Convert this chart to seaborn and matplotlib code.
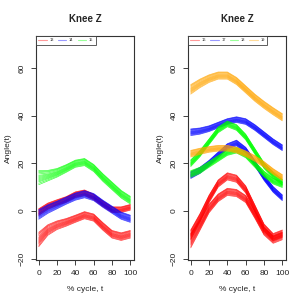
import numpy as np
import pandas as pd
import matplotlib
matplotlib.use("Agg")
import matplotlib.pyplot as plt
import seaborn as sns
from matplotlib.lines import Line2D

sns.set_theme(style="white")
plt.rcParams["font.family"] = ["Liberation Sans", "DejaVu Sans"]

# % cycle knots
t = [0, 10, 20, 30, 40, 50, 60, 70, 80, 90, 100]

# left panel: subjects 13, 14, 15 (bundle centre curves)
red13_hi = [-0.5, 2.0, 3.5, 4.8, 6.8, 7.6, 5.8, 3.0, 0.5, 0.5, 1.5]
red13_lo = [-12, -8, -6, -4.8, -3.3, -1.8, -2.8, -6.5, -9.8, -10.8, -9.8]
blue14 = [-1.5, 0.8, 2.5, 4.3, 6.0, 7.0, 5.8, 3.0, 0.5, -2.0, -3.3]
green15 = [14, 14.8, 16, 17.8, 19.8, 20.5, 18, 14, 10.5, 7, 4.5]

# right panel: subjects 16, 17, 18, 19
red16_hi = [-10, -3, 5, 11.5, 14.5, 13.5, 9, 1, -7, -11, -9.5]
red16_lo = [-12.5, -6, 1, 5.5, 8, 7.5, 5, -1.5, -8.5, -12, -10.5]
blue17_hi = [33, 33.5, 34.5, 36, 37.5, 38.3, 37.5, 35, 32, 29, 26.5]
blue17_lo = [15, 17, 20, 23.5, 27, 28.5, 25.5, 20, 14, 9, 5.5]
green18_hi = [20, 24, 29, 34, 36.5, 35, 31, 25, 19, 15, 12]
green18_lo = [15.5, 17, 19.5, 22, 24.5, 25.5, 23.5, 19.5, 15.5, 12.5, 11]
orange19_hi = [51, 53.5, 55.5, 56.8, 56.8, 54.5, 51, 47.5, 44.5, 41.8, 39.3]
orange19_lo = [24, 25, 25.8, 26.3, 26.3, 25.5, 24, 22, 19.5, 16.5, 14]

# half width of each bundle at the knots
spread_wide = [3.0, 2.2, 1.8, 1.6, 1.5, 1.5, 1.5, 1.6, 1.6, 1.6, 1.6]
spread_mid = [2.0, 1.8, 1.6, 1.5, 1.5, 1.5, 1.5, 1.5, 1.5, 1.5, 1.5]
spread_thin = [1.4, 1.3, 1.2, 1.2, 1.2, 1.2, 1.2, 1.2, 1.2, 1.2, 1.2]
# position of each single curve inside its bundle
offsets = [-1.0, -0.8, -0.6, -0.45, -0.3, -0.15, 0.0, 0.15, 0.3, 0.5, 0.7, 0.85, 1.0]

left_groups = ["13", "14", "15"]
right_groups = ["16", "17", "18", "19"]
colors = {"13": "#FF0000", "14": "#0000FF", "15": "#00FF00",
          "16": "#FF0000", "17": "#0000FF", "18": "#00FF00", "19": "#FFA500"}

left_bundles = [("13", red13_hi, spread_thin), ("13", red13_lo, spread_wide),
                ("14", blue14, spread_mid), ("15", green15, spread_wide)]
right_bundles = [("16", red16_hi, spread_mid), ("16", red16_lo, spread_wide),
                 ("17", blue17_hi, spread_thin), ("17", blue17_lo, spread_thin),
                 ("18", green18_hi, spread_thin), ("18", green18_lo, spread_thin),
                 ("19", orange19_hi, spread_mid), ("19", orange19_lo, spread_thin)]


def long_table(bundles):
    rows = []
    for b, (g, centre, spread) in enumerate(bundles):
        for k, off in enumerate(offsets):
            for ti, c, s in zip(t, centre, spread):
                rows.append({"t": ti, "angle": c + off * s,
                             "curve": f"{g}_{b}_{k}", "group": g})
    return pd.DataFrame(rows)


def draw(ax, bundles, groups):
    df = long_table(bundles)
    sns.lineplot(data=df, x="t", y="angle", hue="group", hue_order=groups,
                 units="curve", estimator=None, palette=colors,
                 linewidth=0.5, alpha=0.75, legend=False, ax=ax)
    ax.set_xlim(-3, 104)
    ax.set_ylim(-20.6, 73.4)
    ax.set_xticks([0, 20, 40, 60, 80, 100])
    ax.set_yticks([-20, 0, 20, 40, 60])
    ax.tick_params(axis="both", direction="out", length=3.5, width=0.6,
                   labelsize=6, colors="#222222", left=True, bottom=True)
    ax.tick_params(axis="x", pad=4)
    ax.tick_params(axis="y", pad=4)
    for lab in ax.get_yticklabels():
        lab.set_rotation(90)
        lab.set_va("center")
    for sp in ax.spines.values():
        sp.set_visible(True)
        sp.set_color("#333333")
        sp.set_linewidth(0.8)
    ax.set_title("Knee Z", fontsize=7, fontweight="bold", pad=10)
    ax.set_xlabel("% cycle, t", fontsize=6, labelpad=6)
    ax.set_ylabel("Angle(t)", fontsize=6, labelpad=5)
    handles = [Line2D([0], [0], color=colors[g], alpha=0.4, lw=0.8) for g in groups]
    leg = ax.legend(handles, groups, loc="upper left", ncol=len(groups),
                    fontsize=2.8, handlelength=2.2, handletextpad=0.7,
                    columnspacing=1.0, borderpad=0.6, borderaxespad=0,
                    frameon=True, fancybox=False)
    leg.get_frame().set_edgecolor("#333333")
    leg.get_frame().set_linewidth(0.7)


fig = plt.figure(figsize=(3.05, 3.05), dpi=100)
ax1 = fig.add_axes([36 / 305, 45 / 305, 98 / 305, 224 / 305])
ax2 = fig.add_axes([188 / 305, 45 / 305, 98 / 305, 224 / 305])
draw(ax1, left_bundles, left_groups)
draw(ax2, right_bundles, right_groups)

fig.savefig("out.png", dpi=100)
